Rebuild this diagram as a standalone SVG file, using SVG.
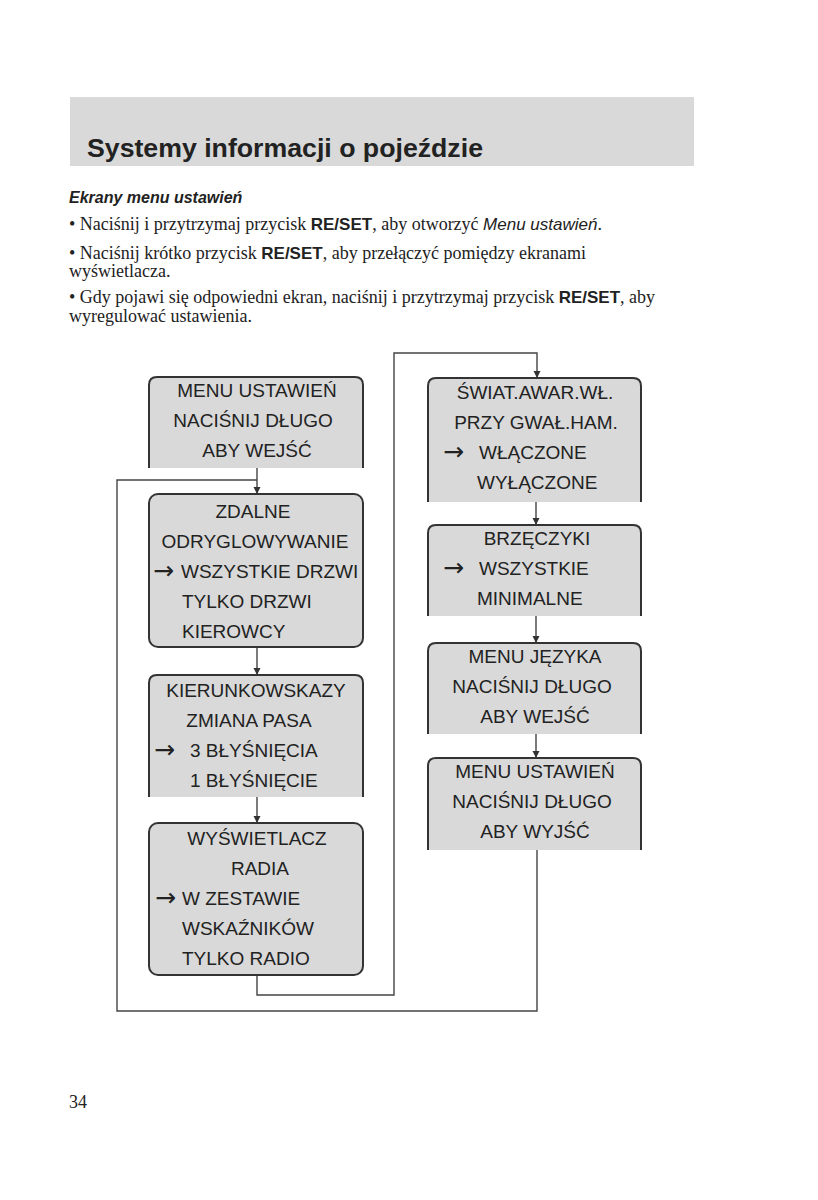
<svg xmlns="http://www.w3.org/2000/svg" width="818" height="1200" viewBox="0 0 818 1200">
<style>
.bx{fill:#d9d9d9;stroke:#333;stroke-width:2}
.t{font-family:"Liberation Sans",Arial,sans-serif;font-size:19px;fill:#222}
.c{text-anchor:middle}
.ar{font-family:"DejaVu Sans",sans-serif;font-size:25px;fill:#222}
.ln{fill:none;stroke:#444;stroke-width:1.4}
.body{font-family:"Liberation Serif","Times New Roman",serif;font-size:18px;fill:#222}
.b{font-family:"Liberation Sans",Arial,sans-serif;font-weight:bold;font-size:17px}
.i{font-family:"Liberation Sans",Arial,sans-serif;font-style:italic;font-size:17px}
</style>
<defs>
<marker id="ah" markerUnits="userSpaceOnUse" markerWidth="8" markerHeight="9" refX="7" refY="4.5" orient="auto">
<path d="M0,1 L7,4.5 L0,8 z" fill="#333"/>
</marker>
</defs>
<rect width="818" height="1200" fill="#fff"/>
<g id="header">
<rect x="70" y="97" width="624" height="69" fill="#d9d9d9"/>
<text x="87" y="157" font-family="Liberation Sans,Arial,sans-serif" font-weight="bold" font-size="26.7" fill="#222">Systemy informacji o pojeździe</text>
<text x="69" y="203" font-family="Liberation Sans,Arial,sans-serif" font-weight="bold" font-style="italic" font-size="16" fill="#222">Ekrany menu ustawień</text>
<text class="body" x="69" y="230">• Naciśnij i przytrzymaj przycisk <tspan class="b">RE/SET</tspan>, aby otworzyć <tspan class="i">Menu ustawień</tspan>.</text>
<text class="body" x="69" y="259">• Naciśnij krótko przycisk <tspan class="b">RE/SET</tspan>, aby przełączyć pomiędzy ekranami</text>
<text class="body" x="69" y="277">wyświetlacza.</text>
<text class="body" x="69" y="303">• Gdy pojawi się odpowiedni ekran, naciśnij i przytrzymaj przycisk <tspan class="b">RE/SET</tspan>, aby</text>
<text class="body" x="69" y="322">wyregulować ustawienia.</text>
</g>
<g id="connectors">
<path class="ln" d="M257,468 V494" marker-end="url(#ah)"/>
<path class="ln" d="M537,850 V1011 H117 V480 H257"/>
<path class="ln" d="M257,647 V675" marker-end="url(#ah)"/>
<path class="ln" d="M257,797 V823" marker-end="url(#ah)"/>
<path class="ln" d="M257,975 V995 H394 V353 H537 V378" marker-end="url(#ah)"/>
<path class="ln" d="M536,502 V525" marker-end="url(#ah)"/>
<path class="ln" d="M536,616 V643" marker-end="url(#ah)"/>
<path class="ln" d="M536,734 V758" marker-end="url(#ah)"/>
</g>
<g id="n1">
<path class="bx" d="M149,468 V385 Q149,377 157,377 H355 Q363,377 363,385 V468"/>
<text class="t c" x="257" y="397">MENU USTAWIEŃ</text>
<text class="t c" x="253" y="427">NACIŚNIJ DŁUGO</text>
<text class="t c" x="257" y="457">ABY WEJŚĆ</text>
</g>
<g id="n2">
<rect class="bx" x="149" y="494" width="214" height="153" rx="9"/>
<text class="t c" x="253" y="518">ZDALNE</text>
<text class="t c" x="255" y="548">ODRYGLOWYWANIE</text>
<text class="ar" x="153" y="579">→</text>
<text class="t" x="181" y="578">WSZYSTKIE DRZWI</text>
<text class="t" x="182" y="608">TYLKO DRZWI</text>
<text class="t" x="182" y="638">KIEROWCY</text>
</g>
<g id="n3">
<path class="bx" d="M149,797 V683 Q149,675 157,675 H355 Q363,675 363,683 V797"/>
<text class="t c" x="256" y="697">KIERUNKOWSKAZY</text>
<text class="t c" x="249" y="727">ZMIANA PASA</text>
<text class="ar" x="154" y="758">→</text>
<text class="t" x="190" y="757">3 BŁYŚNIĘCIA</text>
<text class="t" x="190" y="787">1 BŁYŚNIĘCIE</text>
</g>
<g id="n4">
<rect class="bx" x="149" y="823" width="214" height="152" rx="9"/>
<text class="t c" x="257" y="845">WYŚWIETLACZ</text>
<text class="t c" x="260" y="875">RADIA</text>
<text class="ar" x="155" y="906">→</text>
<text class="t" x="182" y="905">W ZESTAWIE</text>
<text class="t" x="182" y="935">WSKAŹNIKÓW</text>
<text class="t" x="182" y="965">TYLKO RADIO</text>
</g>
<g id="n5">
<path class="bx" d="M428,502 V386 Q428,378 436,378 H633 Q641,378 641,386 V502"/>
<text class="t c" x="535" y="399">ŚWIAT.AWAR.WŁ.</text>
<text class="t c" x="536" y="429">PRZY GWAŁ.HAM.</text>
<text class="ar" x="443" y="460">→</text>
<text class="t" x="479" y="459">WŁĄCZONE</text>
<text class="t" x="477" y="489">WYŁĄCZONE</text>
</g>
<g id="n6">
<path class="bx" d="M428,616 V533 Q428,525 436,525 H633 Q641,525 641,533 V616"/>
<text class="t c" x="537" y="545">BRZĘCZYKI</text>
<text class="ar" x="443" y="576">→</text>
<text class="t" x="479" y="575">WSZYSTKIE</text>
<text class="t" x="477" y="605">MINIMALNE</text>
</g>
<g id="n7">
<path class="bx" d="M428,734 V651 Q428,643 436,643 H633 Q641,643 641,651 V734"/>
<text class="t c" x="535" y="663">MENU JĘZYKA</text>
<text class="t c" x="532" y="693">NACIŚNIJ DŁUGO</text>
<text class="t c" x="535" y="723">ABY WEJŚĆ</text>
</g>
<g id="n8">
<path class="bx" d="M428,850 V766 Q428,758 436,758 H633 Q641,758 641,766 V850"/>
<text class="t c" x="535" y="778">MENU USTAWIEŃ</text>
<text class="t c" x="532" y="808">NACIŚNIJ DŁUGO</text>
<text class="t c" x="535" y="838">ABY WYJŚĆ</text>
</g>
<text class="body" x="69" y="1108">34</text>
</svg>
